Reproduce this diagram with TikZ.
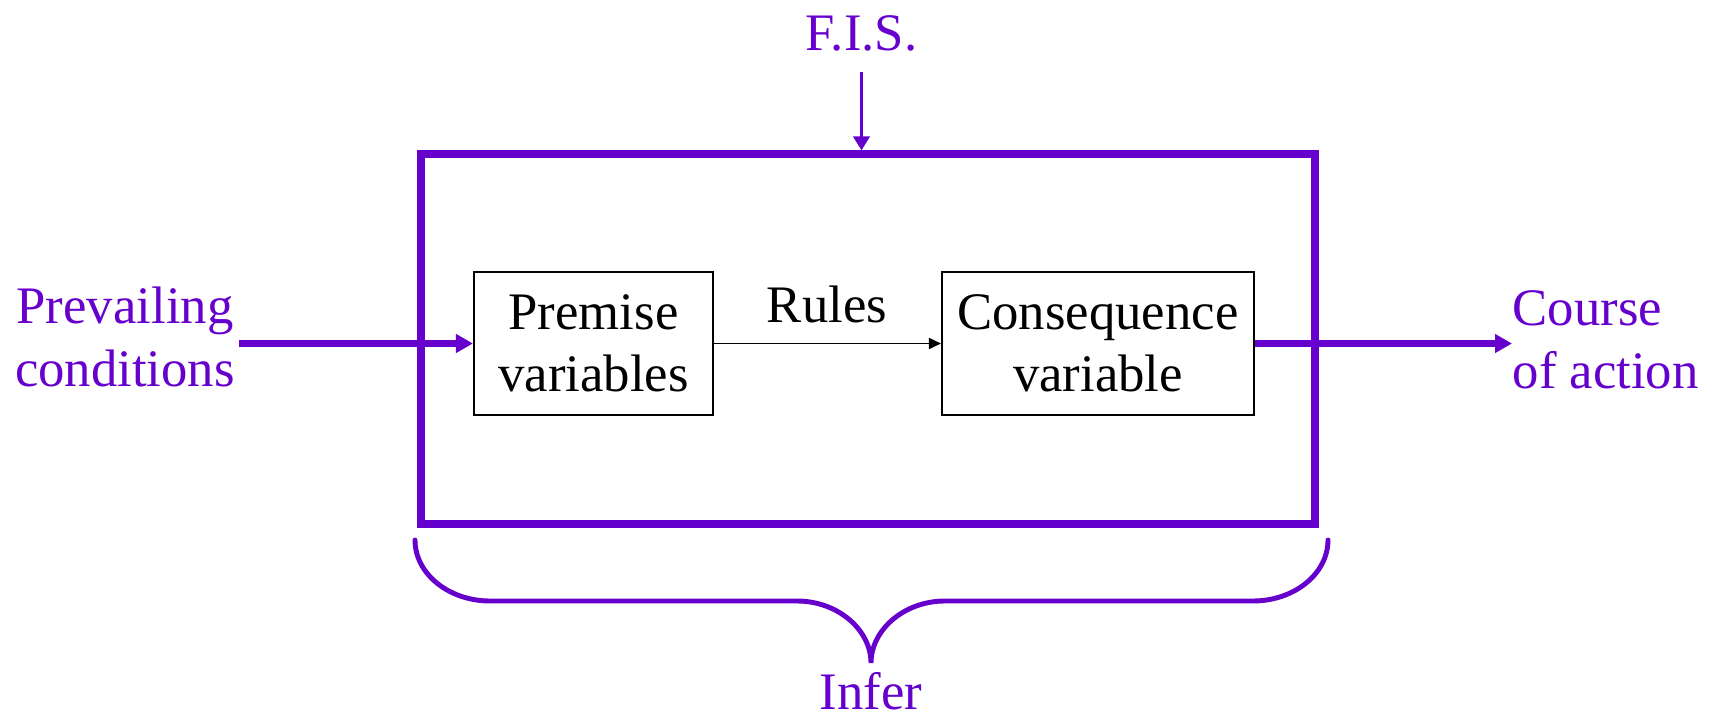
\documentclass[tikz,border=0pt]{standalone}
\usepackage{fontspec}
\setmainfont{Liberation Serif}
\usetikzlibrary{arrows.meta, positioning, calc}
\definecolor{cpurple}{HTML}{6600CC}
\tikzset{
  every picture/.style={font=\fontsize{15}{17.8}\selectfont},
  box/.style={draw=black, line width=0.6pt, align=center, minimum height=1.43cm, inner sep=0pt},
  frame/.style={draw=cpurple, line width=2pt, minimum width=8.94cm, minimum height=3.70cm, inner sep=0pt},
  arrow/.style={-{Triangle[length=1.7mm, width=1.8mm]}, draw=cpurple, line width=2pt},
  thinarrow/.style={-{Triangle[length=1.4mm, width=1.6mm]}, draw=cpurple, line width=1pt},
  blackarrow/.style={-{Triangle[length=1.2mm, width=1.1mm]}, draw=black, line width=0.5pt},
  note/.style={text=cpurple, align=center, inner sep=1pt},
}

\begin{document}
\begin{tikzpicture}
  \useasboundingbox (0,0) rectangle (17.14,-7.16);
  \node[frame] (fis) at (8.68,-3.39) {};
  \node[box, minimum width=2.39cm] (pv) at (5.935,-3.435) {Premise\\variables};
  \node[box, minimum width=3.12cm] (cv) at (10.98,-3.435) {Consequence\\variable};
  \node[inner sep=1pt] (rules) at (8.27,-3.04) {Rules};
  \node[note] (fislbl) at (8.615,-0.33) {F.I.S.};
  \node[note] (prev) at (1.25,-3.37) {Prevailing\\conditions};
  \node[note, align=left, anchor=west, inner sep=0pt] (course) at (15.12,-3.40) {Course\\of action};
  \node[note] (infer) at (8.71,-6.91) {Infer};
  % connectors
  \draw[arrow] (prev.east |- pv.west) -- (pv.west);
  \draw[blackarrow] (pv.east) -- (cv.west);
  \draw[arrow] (cv.east) -- (cv.east -| course.west);
  \draw[thinarrow, shorten <=0.17cm] (fislbl.south) -- (fislbl.south |- fis.north);
  % brace under the frame
  \draw[cpurple, line width=1.4pt, line cap=round]
    (4.15,-5.40) .. controls (4.15,-5.74) and (4.49,-6.01) .. (4.90,-6.01)
    -- (7.97,-6.01) .. controls (8.38,-6.01) and (8.71,-6.30) .. (8.71,-6.63)
    .. controls (8.71,-6.30) and (9.04,-6.01) .. (9.45,-6.01)
    -- (12.53,-6.01) .. controls (12.94,-6.01) and (13.28,-5.74) .. (13.28,-5.40);
\end{tikzpicture}
\end{document}
